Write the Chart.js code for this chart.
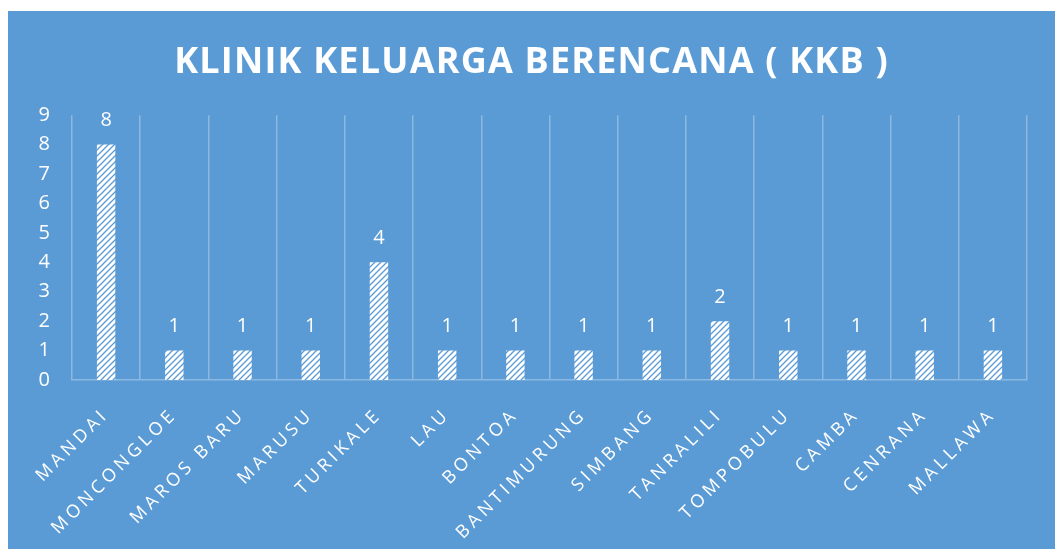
<!DOCTYPE html>
<html>
<head>
<meta charset="utf-8">
<script src="https://cdn.jsdelivr.net/npm/chart.js@4.4.1/dist/chart.umd.min.js"></script>
<style>
  html, body { margin: 0; padding: 0; background: #ffffff; }
  #wrap { position: absolute; left: 8px; top: 11px; width: 1047px; height: 538px; background: #5B9BD5; }
  canvas { display: block; }
</style>
</head>
<body>
<div id="wrap"><canvas id="c" width="1047" height="538"></canvas></div>
<script>
const categories = ["MANDAI", "MONCONGLOE", "MAROS BARU", "MARUSU", "TURIKALE", "LAU", "BONTOA", "BANTIMURUNG", "SIMBANG", "TANRALILI", "TOMPOBULU", "CAMBA", "CENRANA", "MALLAWA"];
const values = [8, 1, 1, 1, 4, 1, 1, 1, 1, 2, 1, 1, 1, 1];
const yTicks = [0, 1, 2, 3, 4, 5, 6, 7, 8, 9];
const titleText = "KLINIK KELUARGA BERENCANA ( KKB )";

const BG = '#5B9BD5';
const GRID = 'rgba(255,255,255,0.3)';
const LABEL_SPACING = '4px';
const TITLE_SPACING = '1.2px';

function makeHatch() {
  const s = 6;
  const p = document.createElement('canvas');
  p.width = s; p.height = s;
  const g = p.getContext('2d');
  g.fillStyle = '#ffffff';
  g.fillRect(0, 0, s, s);
  g.strokeStyle = BG;
  g.lineWidth = 1.3;
  g.beginPath();
  g.moveTo(-1, s + 1); g.lineTo(s + 1, -1);
  g.moveTo(-1, 1); g.lineTo(1, -1);
  g.moveTo(s - 1, s + 1); g.lineTo(s + 1, s - 1);
  g.stroke();
  return p;
}

const ctx = document.getElementById('c').getContext('2d');
const hatch = ctx.createPattern(makeHatch(), 'repeat');

const spacingPlugin = {
  id: 'spacing',
  beforeInit(chart) { chart.ctx.letterSpacing = LABEL_SPACING; },
  beforeUpdate(chart) { chart.ctx.letterSpacing = LABEL_SPACING; },
  beforeDraw(chart) { chart.ctx.letterSpacing = LABEL_SPACING; },
  afterLayout(chart) {
    const wrap = (box, sp) => {
      if (box && !box._wrapped) {
        const orig = box.draw.bind(box);
        box.draw = function (area) {
          const c = chart.ctx;
          const prev = c.letterSpacing;
          c.letterSpacing = sp;
          orig(area);
          c.letterSpacing = prev;
        };
        box._wrapped = true;
      }
    };
    wrap(chart.titleBlock, TITLE_SPACING);
  }
};

const labelPlugin = {
  id: 'valueLabels',
  afterDatasetsDraw(chart) {
    const c = chart.ctx;
    c.save();
    c.letterSpacing = '0px';
    c.font = '20px "Open Sans"';
    c.fillStyle = '#ffffff';
    c.textAlign = 'center';
    c.textBaseline = 'middle';
    const meta = chart.getDatasetMeta(0);
    meta.data.forEach((el, i) => {
      c.fillText(String(values[i]), el.x, el.y - 24);
    });
    c.restore();
  }
};

new Chart(ctx, {
  type: 'bar',
  data: {
    labels: categories,
    datasets: [{
      data: values,
      backgroundColor: hatch,
      borderWidth: 0,
      categoryPercentage: 1.0,
      barPercentage: 0.27
    }]
  },
  options: {
    responsive: false,
    animation: false,
    layout: { padding: 0 },
    plugins: {
      legend: { display: false },
      tooltip: { enabled: false },
      title: {
        display: true,
        text: titleText,
        color: '#ffffff',
        font: { family: '"Open Sans"', size: 36, weight: 'bold', lineHeight: 1.2 },
        padding: { top: 30, bottom: 31 }
      }
    },
    scales: {
      x: {
        grid: { display: true, color: GRID, lineWidth: 1.5, offset: true, drawTicks: false },
        border: { display: true, color: GRID, width: 1.5 },
        ticks: {
          color: '#ffffff',
          font: { family: '"Open Sans"', size: 18 },
          minRotation: 45,
          maxRotation: 45,
          padding: 24,
          autoSkip: false
        },
        afterFit(scale) { scale.height = 169; }
      },
      y: {
        min: 0,
        max: 9,
        afterBuildTicks(scale) { scale.ticks = yTicks.map(v => ({ value: v })); },
        grid: { display: false },
        border: { display: false },
        ticks: {
          color: '#ffffff',
          font: { family: '"Open Sans"', size: 20 },
          padding: 10
        },
        afterFit(scale) { scale.width = 64; }
      },
      yRight: {
        position: 'right',
        display: true,
        grid: { display: false },
        border: { display: false },
        ticks: { display: false },
        afterFit(scale) { scale.width = 28; }
      }
    }
  },
  plugins: [spacingPlugin, labelPlugin]
});
</script>
</body>
</html>
